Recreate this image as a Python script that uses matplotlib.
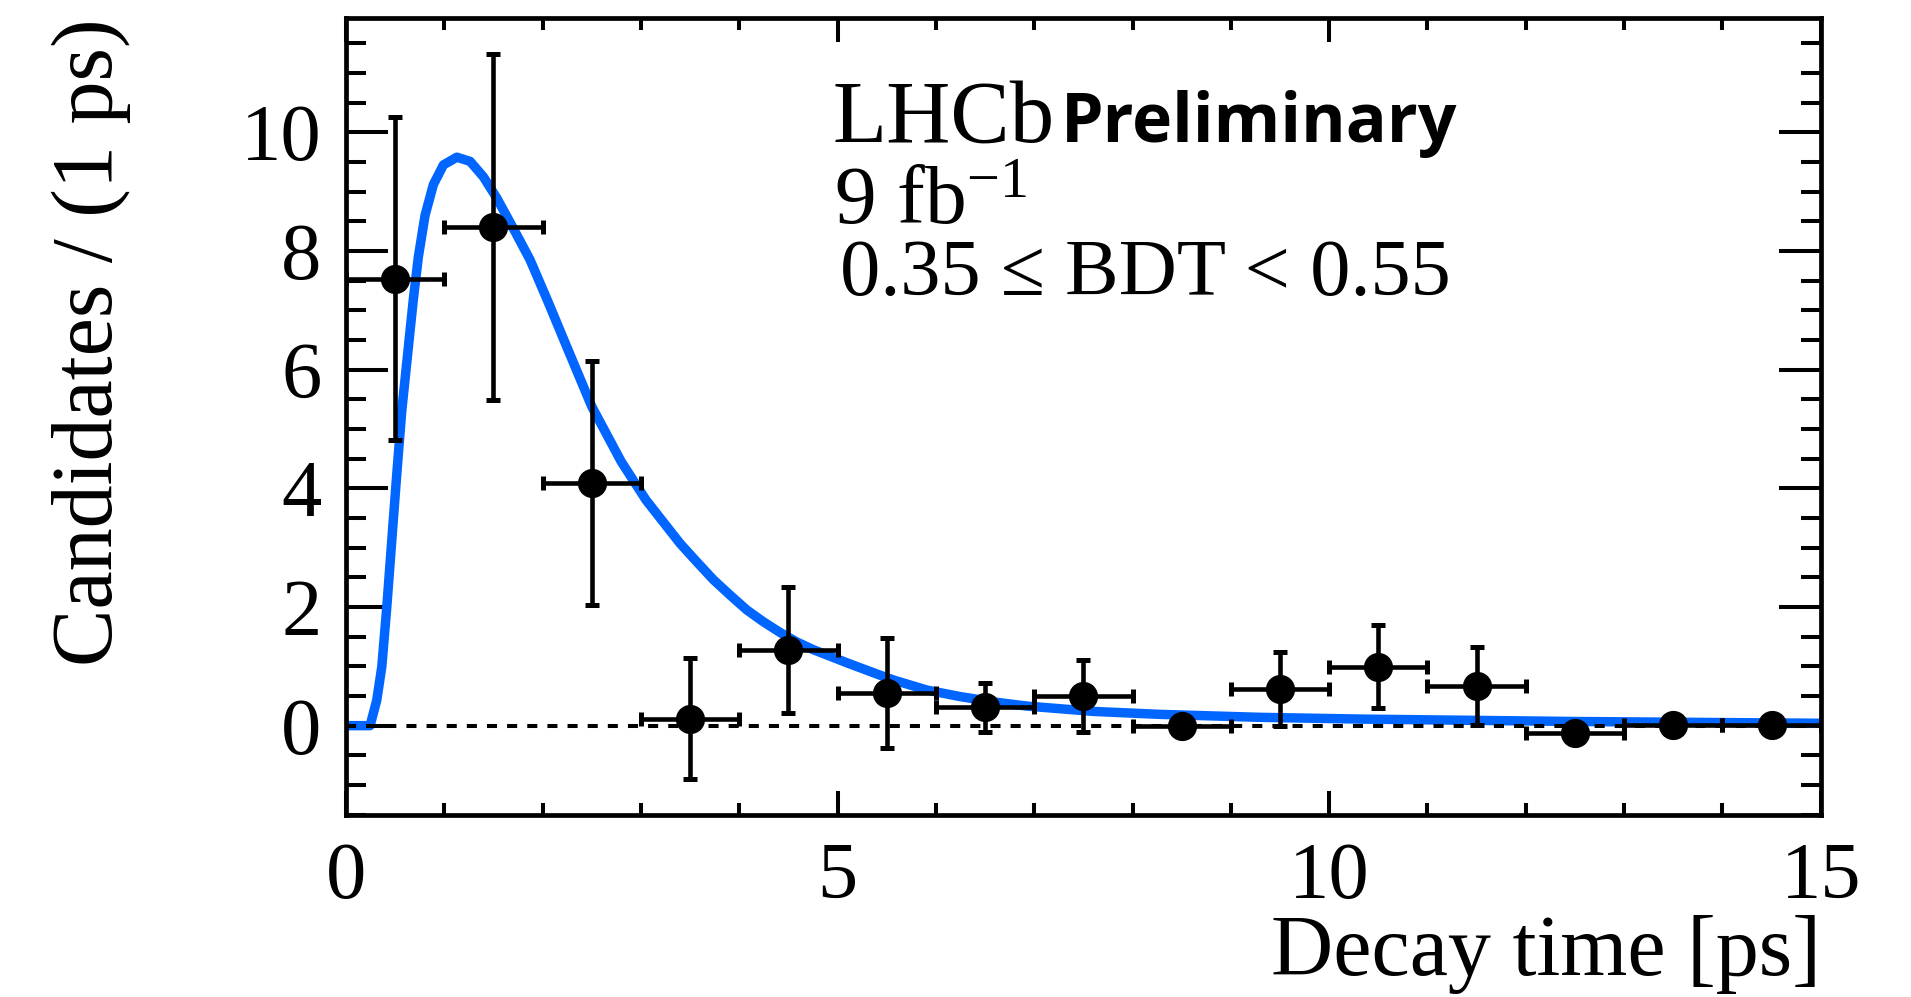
import matplotlib
matplotlib.use("Agg")
import matplotlib.pyplot as plt
from matplotlib.ticker import MultipleLocator
import numpy as np

plt.rcParams['font.family'] = ['Liberation Serif', 'DejaVu Serif']
plt.rcParams['mathtext.fontset'] = 'custom'
plt.rcParams['mathtext.rm'] = 'Liberation Serif'
plt.rcParams['mathtext.it'] = 'Liberation Serif:italic'

# binned data (1 ps bins)
t_bins = [0.5, 1.5, 2.5, 3.5, 4.5, 5.5, 6.5, 7.5, 8.5, 9.5, 10.5, 11.5, 12.5, 13.5, 14.5]
counts = [7.53, 8.40, 4.09, 0.12, 1.28, 0.55, 0.31, 0.50, 0.0, 0.62, 0.99, 0.67, -0.12, 0.01, 0.01]
count_err = [2.72, 2.92, 2.05, 1.02, 1.06, 0.92, 0.41, 0.60, 0.0, 0.62, 0.70, 0.66, 0.0, 0.0, 0.0]
bin_half = [0.5] * 15

# fit curve
fit_t = [0.0, 0.246, 0.314, 0.365, 0.416, 0.467, 0.518, 0.568, 0.646, 0.687, 0.737, 0.805,
         0.890, 0.992, 1.128, 1.263, 1.398, 1.535, 1.703, 1.873, 2.049, 2.26, 2.50, 2.80,
         3.053, 3.399, 3.569, 3.737, 3.907, 4.077, 4.246, 4.416, 4.586, 4.754, 5.094, 5.40,
         5.568, 5.908, 6.246, 6.585, 6.925, 7.60, 8.28, 9.30, 10.35, 12.5, 15.0]
fit_y = [0.0, 0.0, 0.43, 0.99, 2.0, 3.13, 4.25, 5.3, 6.55, 7.2, 7.9, 8.6,
         9.12, 9.45, 9.58, 9.51, 9.25, 8.89, 8.38, 7.85, 7.17, 6.33, 5.38, 4.45,
         3.80, 3.07, 2.76, 2.46, 2.20, 1.95, 1.75, 1.57, 1.41, 1.28, 1.06, 0.87,
         0.77, 0.60, 0.49, 0.40, 0.33, 0.24, 0.19, 0.14, 0.11, 0.07, 0.04]

fig = plt.figure(figsize=(19.11, 9.97), dpi=100)
ax = fig.add_axes([0.181, 0.1829, 0.7718, 0.7987])

ax.plot(fit_t, fit_y, color='#0066ff', lw=6.8, zorder=2,
        solid_joinstyle='round', solid_capstyle='butt')
ax.axhline(0, color='black', lw=2.9, ls=(0, (2.5, 2.5)), zorder=3)
ax.errorbar(t_bins, counts, yerr=count_err, xerr=bin_half, fmt='o', color='black',
            ms=20, elinewidth=3.3, capsize=5, capthick=3.6, zorder=4)

ax.set_xlim(0, 15)
ax.set_ylim(-1.5, 11.92)
ax.xaxis.set_major_locator(MultipleLocator(5))
ax.xaxis.set_minor_locator(MultipleLocator(1))
ax.yaxis.set_major_locator(MultipleLocator(2))
ax.yaxis.set_minor_locator(MultipleLocator(0.5))

ax.tick_params(which='both', direction='in', top=True, right=True, width=2.9, labelsize=58)
ax.tick_params(axis='x', which='major', length=17.3, pad=19.5)
ax.tick_params(axis='x', which='minor', length=8.6)
ax.tick_params(axis='y', which='major', length=30, pad=17.4)
ax.tick_params(axis='y', which='minor', length=14.4)
for s in ax.spines.values():
    s.set_linewidth(3.4)

ax.set_xlabel('Decay time [ps]', fontsize=62, loc='right', va='baseline')
ax.xaxis.set_label_coords(1.0, -0.2013)
ax.set_ylabel('Candidates / (1 ps)', fontsize=62, loc='top', va='baseline')
ax.yaxis.set_label_coords(-0.1585, 1.0)

ax.text(0.330, 0.845, 'LHCb', transform=ax.transAxes, fontsize=64, va='baseline')
ax.text(0.485, 0.845, 'Preliminary', transform=ax.transAxes, fontsize=49,
        family='Open Sans', weight='bold', va='baseline')
ax.text(0.3307, 0.7426, r'9 fb$^{-1}$', transform=ax.transAxes, fontsize=60, va='baseline')
ax.text(0.3353, 0.6526, '0.35 \u2264 BDT < 0.55', transform=ax.transAxes, fontsize=58, va='baseline')

plt.savefig('out.png', dpi=100)
